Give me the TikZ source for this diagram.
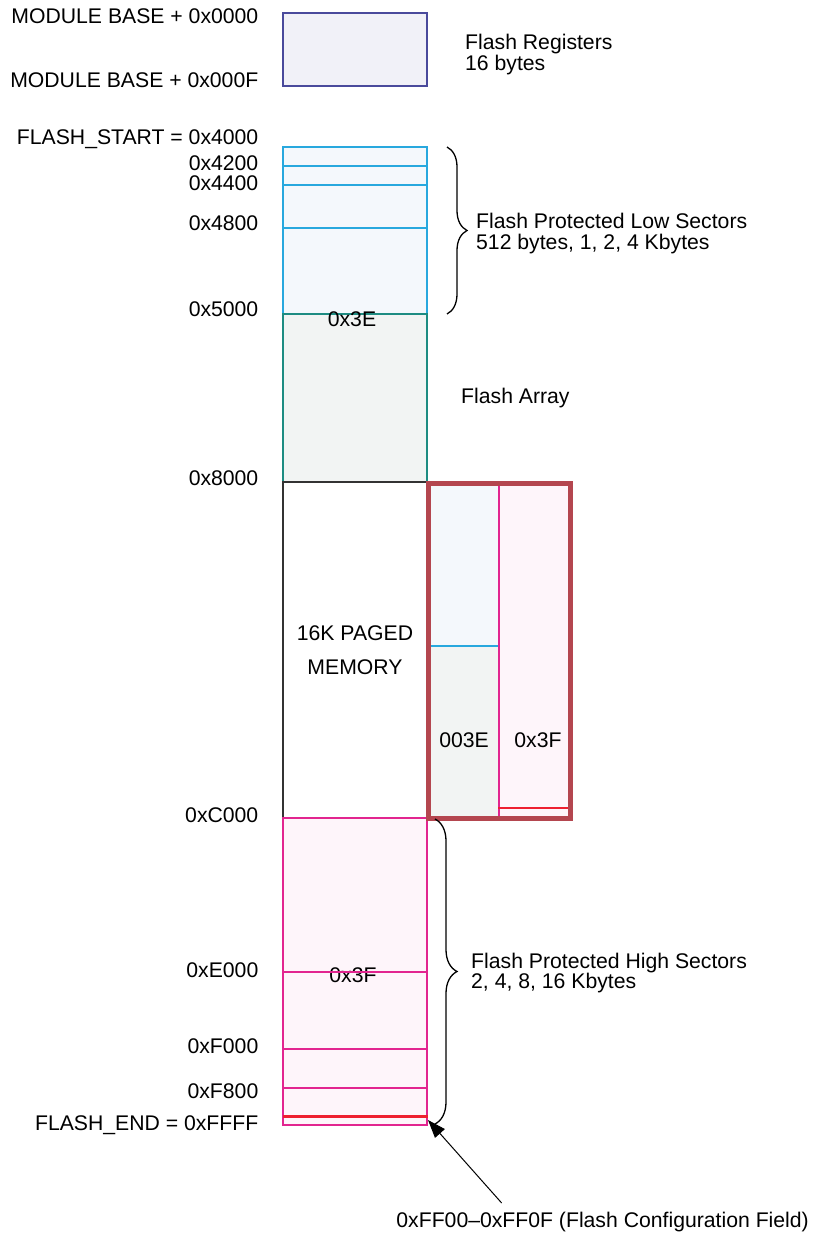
\documentclass[tikz,border=0pt]{standalone}
\usepackage{fontspec}
\setmainfont{Liberation Sans}
\usetikzlibrary{arrows.meta, positioning, decorations.pathreplacing}
\definecolor{regfill}{RGB}{241,241,248}
\definecolor{regborder}{RGB}{74,74,156}
\definecolor{lowfill}{RGB}{244,248,252}
\definecolor{lowborder}{RGB}{40,168,222}
\definecolor{arrfill}{RGB}{242,244,243}
\definecolor{arrborder}{RGB}{30,140,130}
\definecolor{hifill}{RGB}{254,245,250}
\definecolor{hiborder}{RGB}{226,37,143}
\definecolor{frameborder}{RGB}{180,70,79}
\definecolor{cfgred}{RGB}{238,32,48}
\newcommand\mapfont{\fontsize{21.2}{20.5}\selectfont}
\tikzset{
  membox/.style={
    rectangle, anchor=north west, inner sep=0pt, outer sep=0pt,
    minimum width=144pt, line width=1.3pt, font=\mapfont},
  regbox/.style={membox, fill=regfill, draw=regborder, line width=1.8pt},
  lowbox/.style={membox, fill=lowfill, draw=lowborder},
  arrbox/.style={membox, fill=arrfill, draw=arrborder},
  pagebox/.style={membox, fill=white, draw=black!80, align=center,
    font={\fontsize{21.2}{34}\selectfont}},
  hibox/.style={membox, fill=hifill, draw=hiborder},
  pageframe/.style={membox, draw=frameborder, line width=5pt},
  lowline/.style={draw=lowborder, line width=1.3pt},
  hiline/.style={draw=hiborder, line width=1.3pt},
  cfgline/.style={draw=cfgred, line width=2.5pt},
  addr/.style={anchor=base east, inner sep=0pt, font=\mapfont},
  inlabel/.style={anchor=base, inner sep=0pt, font=\mapfont},
  note/.style={anchor=west, inner sep=0pt, align=left, font=\mapfont},
  brace/.style={decorate, line width=1.3pt, draw=black},
  cfgarrow/.style={-{Triangle[length=18pt, width=13pt]}, line width=1pt,
    color=black}
}
\begin{document}
\begin{tikzpicture}[x=1pt, y=-1pt]
  \useasboundingbox (0,0) rectangle (812,1236);

  %% register block
  \node[regbox, minimum height=73pt] (regs) at (283,13) {};
  \node[note, right=38pt of regs, yshift=-5pt]
    (regsnote) {Flash Registers\\16 bytes};

  %% flash blocks, top to bottom
  \node[lowbox, minimum height=167pt] (lowsec) at (283,147) {};
  \foreach \yy in {166,185,228}
    \draw[lowline] (283,\yy) -- (427,\yy);
  \node[arrbox, minimum height=168pt] (flasharr) at (283,314) {};
  \node[inlabel] (arrid) at (352,326.5) {0x3E};
  \node[pagebox, minimum height=336pt] (paged) at (283,482)
    {16K PAGED\\MEMORY};
  \node[hibox, minimum height=307pt] (hisec) at (283,818) {};
  \node[inlabel] (hiid) at (353,982.5) {0x3F};
  \foreach \yy in {972,1049,1088}
    \draw[hiline] (283,\yy) -- (427,\yy);
  \draw[cfgline] (283,1116.5) -- (428,1116.5);

  %% paging window
  \fill[lowfill] (431,485) rectangle (499,646);
  \fill[arrfill] (431,646) rectangle (499,816);
  \fill[hifill] (499,485) rectangle (568,816);
  \draw[lowline] (431,646) -- (499,646);
  \draw[hiline] (499,485) -- (499,816);
  \draw[cfgline] (498,808) -- (568,808);
  \node[pageframe, minimum width=142pt, minimum height=335.5pt]
    (frame) at (428.5,483) {};
  \node[inlabel] (pglowid) at (464,747.5) {003E};
  \node[inlabel] (pghighid) at (538,747.5) {0x3F};

  %% addresses
  \foreach \yy/\txt/\nm in {24/MODULE BASE + 0x0000/mb0,
      88/MODULE BASE + 0x000F/mbf,
      144/FLASH\_START = 0x4000/fstart,
      170.5/0x4200/a42, 190.5/0x4400/a44, 230/0x4800/a48,
      316/0x5000/a50, 485.5/0x8000/a80, 822.5/0xC000/ac0,
      977.5/0xE000/ae0, 1053/0xF000/af0, 1098/0xF800/af8,
      1130/FLASH\_END = 0xFFFF/fend}
    \node[addr] (\nm) at (258.5,\yy) {\txt};

  %% braces and notes
  \draw[brace, decoration={brace, amplitude=20pt}] (447,147) -- (447,314);
  \node[note, right=49pt of lowsec, yshift=-3pt]
    (lownote) {Flash Protected Low Sectors\\512 bytes, 1, 2, 4 Kbytes};
  \node[note, right=34pt of flasharr] (arrnote) {Flash Array};
  \draw[brace, decoration={brace, amplitude=22pt}] (435,819) -- (435,1124);
  \node[note, right=44pt of hisec, yshift=-1.5pt]
    (hinote) {Flash Protected High Sectors\\2, 4, 8, 16 Kbytes};

  %% configuration field pointer
  \coordinate (cfgtip) at (428,1120);
  \node[addr] (cfgnote) at (809,1227.5)
    {0xFF00--0xFF0F (Flash Configuration Field)};
  \draw[cfgarrow] ([xshift=-101pt, yshift=9pt]cfgnote.north) -- (cfgtip);

\end{tikzpicture}
\end{document}
